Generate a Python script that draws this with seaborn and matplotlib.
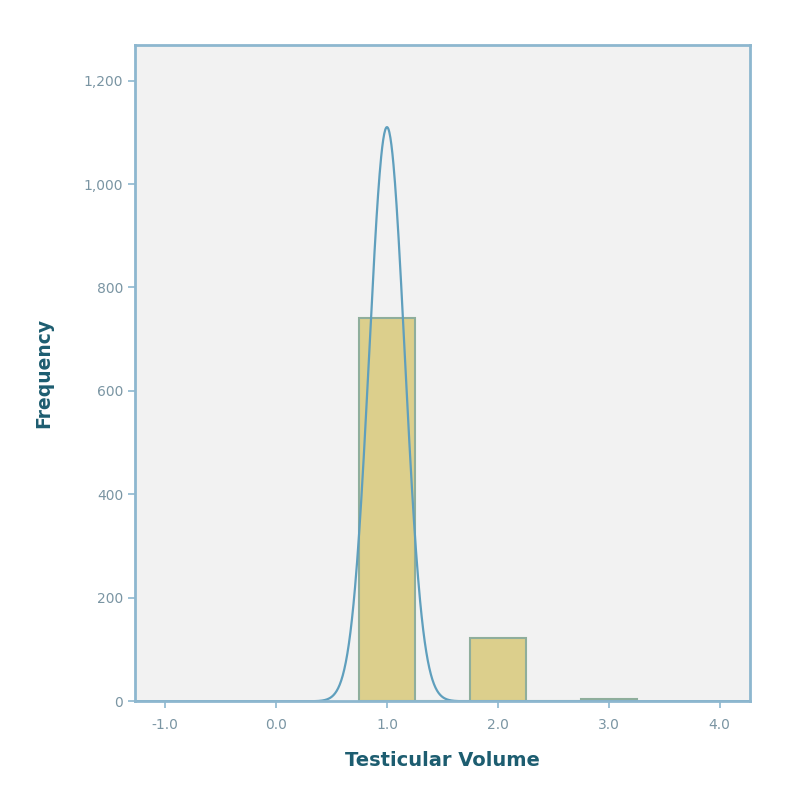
import numpy as np
import pandas as pd
import matplotlib
matplotlib.use("Agg")
import matplotlib.pyplot as plt
import seaborn as sns

# histogram bins (centre of each bin) and counts
bin_centers = [1.0, 2.0, 3.0]
bin_counts = [740, 122, 5]
bin_width = 0.5

# fitted normal curve parameters
curve_mean = 1.0
curve_sd = 0.16
curve_peak = 1110

x_ticks = [-1.0, 0.0, 1.0, 2.0, 3.0, 4.0]
x_tick_labels = ["-1.0", "0.0", "1.0", "2.0", "3.0", "4.0"]
y_ticks = [0, 200, 400, 600, 800, 1000, 1200]
y_tick_labels = ["0", "200", "400", "600", "800", "1,000", "1,200"]

frame_color = "#8db7cf"
text_color = "#1d5d70"
tick_text_color = "#7a95a3"

sns.set_style("white")
plt.rcParams["font.family"] = ["DejaVu Sans"]

fig = plt.figure(figsize=(7.95, 7.96), dpi=100)
ax = fig.add_axes([0.170, 0.119, 0.773, 0.824])
ax.set_facecolor("#f2f2f2")

hist_df = pd.DataFrame({"volume": bin_centers, "count": bin_counts})
sns.histplot(data=hist_df, x="volume", weights="count",
             binwidth=bin_width, binrange=(0.75, 3.25), ax=ax,
             color="#dccf8c", edgecolor="#8fae9c", linewidth=1.5, alpha=1.0)

xs = np.linspace(-1.27, 4.27, 1200)
ys = curve_peak * np.exp(-0.5 * ((xs - curve_mean) / curve_sd) ** 2)
curve_df = pd.DataFrame({"x": xs, "y": ys})
sns.lineplot(data=curve_df, x="x", y="y", ax=ax, color="#5f9fbd", linewidth=1.6)

ax.set_xlim(-1.27, 4.27)
ax.set_ylim(0, 1268)
ax.set_xticks(x_ticks)
ax.set_xticklabels(x_tick_labels)
ax.set_yticks(y_ticks)
ax.set_yticklabels(y_tick_labels)
ax.tick_params(axis="both", direction="out", length=5, width=1.2,
               colors=frame_color, labelcolor=tick_text_color, labelsize=10,
               bottom=True, left=True)
ax.tick_params(axis="x", pad=7)

for spine in ax.spines.values():
    spine.set_visible(True)
    spine.set_color(frame_color)
    spine.set_linewidth(2)

ax.set_xlabel("Testicular Volume", fontsize=14, fontweight="bold",
              color=text_color, labelpad=14)
ax.set_ylabel("Frequency", fontsize=13.5, fontweight="bold",
              color=text_color, labelpad=22)

fig.savefig("out.png", dpi=100)
